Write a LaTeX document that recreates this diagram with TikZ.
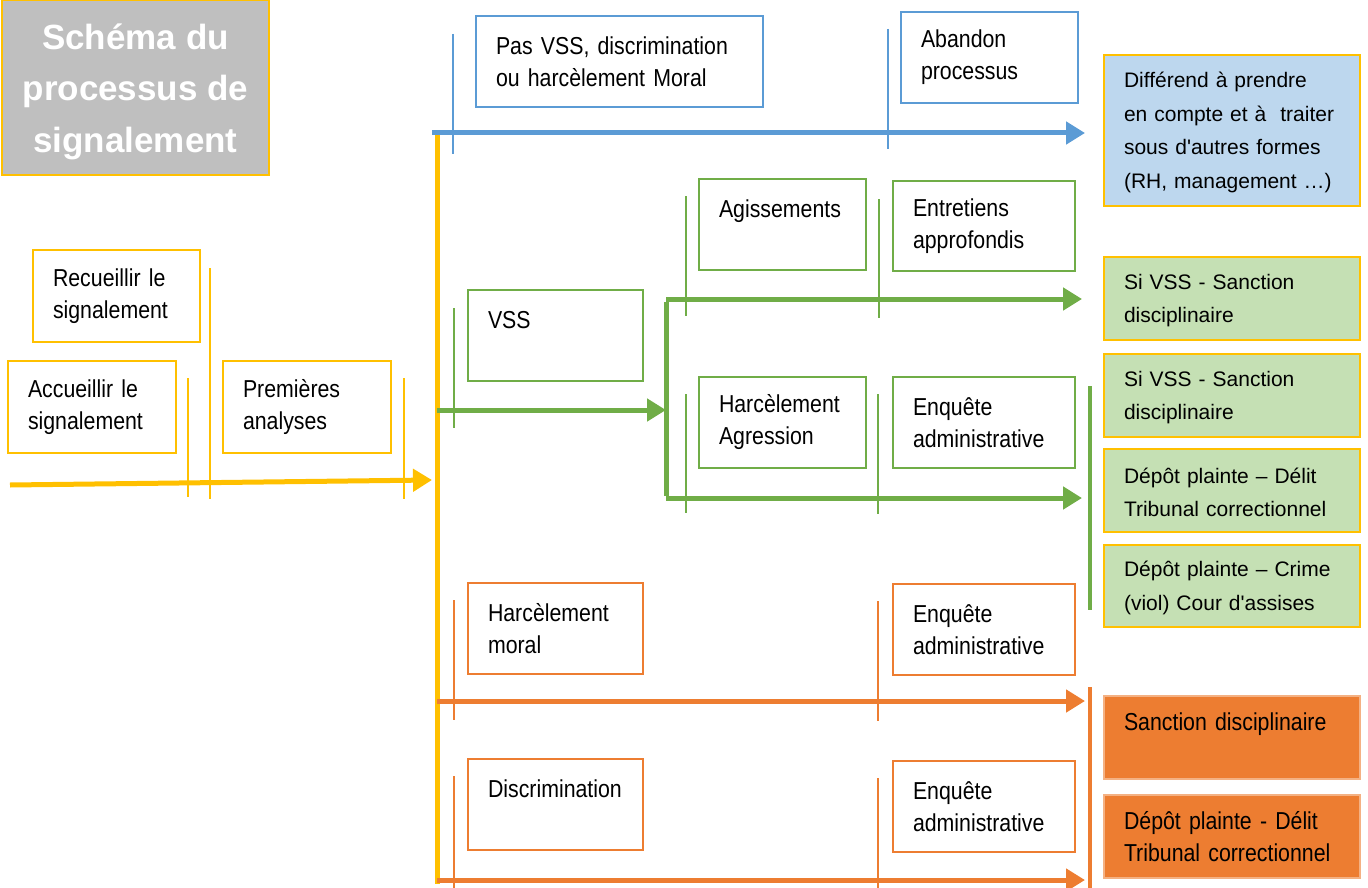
\documentclass[tikz,border=0pt]{standalone}
\usepackage{fontspec}
\setmainfont{Liberation Sans}
\newfontfamily\narrowfont[FakeStretch=0.87,WordSpace=0.75]{Liberation Sans}
\usetikzlibrary{arrows.meta}
\definecolor{cyel}{HTML}{FFC000}
\definecolor{cblue}{HTML}{5B9BD5}
\definecolor{cgreen}{HTML}{70AD47}
\definecolor{corange}{HTML}{ED7D31}
\definecolor{cgray}{HTML}{BFBFBF}
\definecolor{lblue}{HTML}{BDD7EE}
\definecolor{lgreen}{HTML}{C5E0B4}
\definecolor{lorange}{HTML}{F4B183}
\tikzset{
 box/.style={draw=#1, line width=2.5pt, inner xsep=20pt, inner ysep=0pt, align=left, font=\narrowfont\fontsize{24.5}{32}\selectfont, text=black},
 res/.style={draw=cyel, line width=1.5pt, fill=#1, inner xsep=20pt, inner ysep=0pt, align=left, font=\fontsize{21}{33.5}\selectfont, text=black},
 resor/.style={draw=lorange, line width=1.5pt, fill=corange, inner xsep=20pt, inner ysep=0pt, align=left, font=\narrowfont\fontsize{24.5}{32}\selectfont, text=black},
 flow/.style={draw=#1, line width=5pt, -{Triangle[length=19pt,width=22pt]}},
 plainflow/.style={draw=#1, line width=5pt},
 tick/.style={draw=#1, line width=2pt},
 bar/.style={draw=#1, line width=4pt},
}
\newcommand\mybox[7]{%
 \pgfmathsetmacro\mybw{#4-#2}%
 \pgfmathsetmacro\mybh{#5-#3}%
 \pgfmathsetmacro\mytw{#4-#2-40}%
 \node[#6, minimum width=\mybw pt, minimum height=\mybh pt, text width=\mytw pt] (#1) at ({(#2+#4)/2},{(#3+#5)/2}) {#7};}
\begin{document}
\begin{tikzpicture}[x=1pt,y=-1pt]
\useasboundingbox (0,0) rectangle (1368,888);
% title
\node[fill=cgray, draw=cyel, line width=1.5pt, minimum width=267pt, minimum height=175pt, align=center, text=white, font=\bfseries\fontsize{35}{51.5}\selectfont] (title) at (135.5,87.5) {\rule{0pt}{34pt}Schéma du\\processus de\\signalement};
% left boxes
\mybox{recueil}{33}{250}{200}{342}{box=cyel}{Recueillir le\\signalement}
\mybox{accueil}{8}{361}{176}{453}{box=cyel}{Accueillir le\\signalement}
\mybox{analyse}{223}{361}{391}{453}{box=cyel}{Premières\\analyses}
% blue row
\mybox{pasvss}{476}{16}{763}{107}{box=cblue}{Pas VSS, discrimination\\ou harcèlement Moral}
\mybox{abandon}{901}{12}{1078}{103}{box=cblue}{Abandon\\processus}
% green rows
\mybox{vss}{468}{290}{643}{381}{box=cgreen}{VSS\\\mbox{}}
\mybox{agis}{699}{179}{866}{270}{box=cgreen}{Agissements\\\mbox{}}
\mybox{entr}{893}{181}{1075}{271}{box=cgreen}{Entretiens\\approfondis}
\mybox{harag}{699}{377}{866}{468}{box=cgreen}{Harcèlement\\Agression}
\mybox{enqa}{893}{377}{1075}{468}{box=cgreen}{Enquête\\administrative}
% orange rows
\mybox{harmo}{468}{583}{643}{674}{box=corange}{Harcèlement\\moral}
\mybox{enqb}{893}{584}{1075}{675}{box=corange}{Enquête\\administrative}
\mybox{discr}{468}{759}{643}{850}{box=corange}{Discrimination\\\mbox{}}
\mybox{enqc}{893}{761}{1075}{852}{box=corange}{Enquête\\administrative}
% results
\mybox{rblue}{1104}{55}{1360}{206}{res=lblue}{\rule{0pt}{19pt}Différend à prendre\\en compte et à\ \ traiter\\sous d\textquotesingle autres formes\\(RH, management …)}
\mybox{rg1}{1104}{257}{1360}{340}{res=lgreen}{\rule{0pt}{19pt}Si VSS - Sanction\\disciplinaire}
\mybox{rg2}{1104}{354}{1360}{437}{res=lgreen}{\rule{0pt}{19pt}Si VSS - Sanction\\disciplinaire}
\mybox{rg3}{1104}{449}{1360}{532}{res=lgreen}{\rule{0pt}{19pt}Dépôt plainte – Délit\\Tribunal correctionnel}
\mybox{rg4}{1104}{545}{1360}{627}{res=lgreen}{\rule{0pt}{19pt}Dépôt plainte – Crime\\(viol) Cour d\textquotesingle assises}
\mybox{ro1}{1104}{696}{1360}{779}{resor}{Sanction disciplinaire\\\mbox{}}
\mybox{ro2}{1104}{795}{1360}{878}{resor}{Dépôt plainte - Délit\\Tribunal correctionnel}
% coordinates
\coordinate (start) at (10,485);
\coordinate (hub) at (432,480);
\coordinate (ttop) at (437,131);
\coordinate (tbot) at (437,884);
\coordinate (bs) at (432,133);
\coordinate (be) at (1085,133);
\coordinate (gs) at (437,410);
\coordinate (gj) at (666,410);
\coordinate (gjt) at (666,299);
\coordinate (gjb) at (666,498);
\coordinate (ge1) at (1082,299);
\coordinate (ge2) at (1082,498);
\coordinate (os1) at (437,701);
\coordinate (oe1) at (1085,701);
\coordinate (os2) at (437,880);
\coordinate (oe2) at (1085,880);
% ticks
\draw[tick=cyel] (188,378) -- (188,497);
\draw[tick=cyel] (210,268) -- (210,499);
\draw[tick=cyel] (404,378) -- (404,499);
\draw[tick=cblue] (453,34) -- (453,154);
\draw[tick=cblue] (888,29) -- (888,149);
\draw[tick=cgreen] (454,308) -- (454,428);
\draw[tick=cgreen] (686,196) -- (686,316);
\draw[tick=cgreen] (879,199) -- (879,318);
\draw[tick=cgreen] (686,394) -- (686,513);
\draw[tick=cgreen] (878,394) -- (878,514);
\draw[tick=corange] (454,600) -- (454,720);
\draw[tick=corange] (878,601) -- (878,721);
\draw[tick=corange] (454,776) -- (454,888);
\draw[tick=corange] (878,778) -- (878,888);
% flows
\draw[plainflow=cyel] (ttop) -- (tbot);
\draw[flow=cyel] (start) -- (hub);
\draw[flow=cblue] (bs) -- (be);
\draw[flow=cgreen] (gs) -- (gj);
\draw[plainflow=cgreen] ([yshift=-2.5pt]gjt) -- ([yshift=2.5pt]gjb);
\draw[flow=cgreen] (gjt) -- (ge1);
\draw[flow=cgreen] (gjb) -- (ge2);
\draw[flow=corange] (os1) -- (oe1);
\draw[flow=corange] (os2) -- (oe2);
% bars
\draw[bar=cgreen] (1090,386) -- (1090,610);
\draw[bar=corange] (1090,687) -- (1090,888);
\end{tikzpicture}
\end{document}
